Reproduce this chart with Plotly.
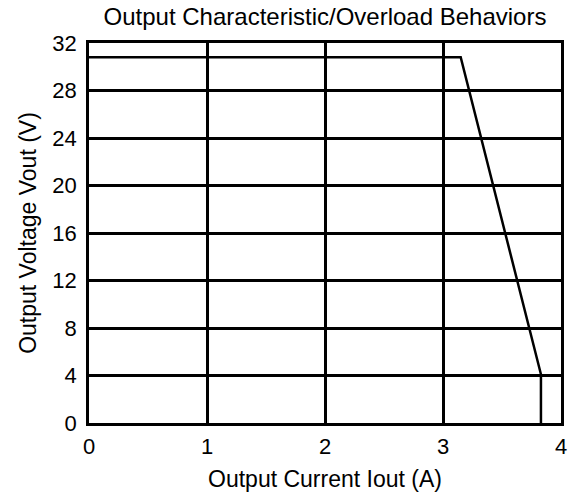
import plotly.graph_objects as go

# Data
current_a = [0.0, 3.15, 3.83, 3.83]
voltage_v = [30.8, 30.8, 4.1, 0.0]
x_ticks = [0, 1, 2, 3, 4]
y_ticks = [0, 4, 8, 12, 16, 20, 24, 28, 32]

FONT = "Liberation Sans, Arial, sans-serif"
W, H = 574, 499

fig = go.Figure()
fig.add_trace(go.Scatter(
    x=current_a, y=voltage_v, mode="lines",
    line=dict(color="black", width=2.5),
    showlegend=False, hoverinfo="skip",
))

fig.update_layout(
    width=W, height=H,
    margin=dict(l=89, r=13, t=43, b=76),
    paper_bgcolor="white", plot_bgcolor="white",
    font=dict(family=FONT, size=22, color="black"),
    hovermode=False,
    title=dict(text="Output Characteristic/Overload Behaviors",
               x=0.5, xref="paper", y=1 - 17 / H, yref="container",
               xanchor="center", yanchor="middle",
               font=dict(family=FONT, size=24, color="black")),
)

fig.update_xaxes(
    range=[0, 4], tickvals=x_ticks, ticktext=[str(v) for v in x_ticks],
    automargin=False,
    showgrid=True, gridcolor="black", gridwidth=2.5,
    zeroline=False, showline=True, linecolor="black", linewidth=2.5, mirror=True,
    ticks="outside", ticklen=2, tickcolor="white",
    tickfont=dict(family=FONT, size=22, color="black"),
    title=dict(text="Output Current Iout (A)", standoff=13,
               font=dict(family=FONT, size=23, color="black")),
)
fig.update_yaxes(
    range=[0, 32], tickvals=y_ticks, ticktext=[str(v) for v in y_ticks],
    automargin=False,
    showgrid=True, gridcolor="black", gridwidth=2.5,
    zeroline=False, showline=True, linecolor="black", linewidth=2.5, mirror=True,
    ticks="outside", ticklen=5, tickcolor="white",
    tickfont=dict(family=FONT, size=22, color="black"),
    title=dict(text="Output Voltage Vout (V)", standoff=10,
               font=dict(family=FONT, size=23, color="black")),
)

# remove the browser's default 8px page margin so the figure fills the window
fig.write_html("out.html", config={"displayModeBar": False},
               post_script="document.body.style.margin='0';")
